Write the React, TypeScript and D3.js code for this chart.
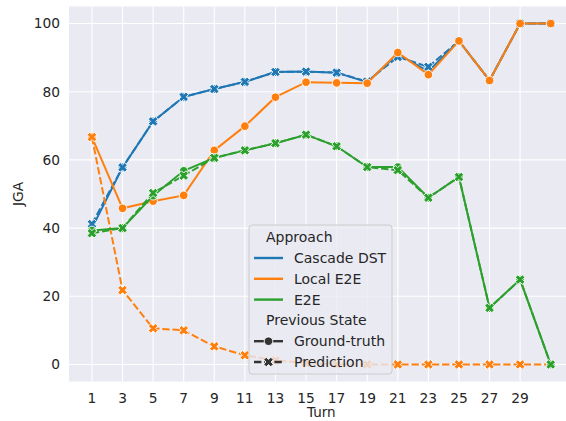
import React from 'react';
import * as d3 from 'd3';

// turns (x) and JGA values (y)
const turns = [1, 3, 5, 7, 9, 11, 13, 15, 17, 19, 21, 23, 25, 27, 29, 31];
const xTicks = [1, 3, 5, 7, 9, 11, 13, 15, 17, 19, 21, 23, 25, 27, 29];
const yTicks = [0, 20, 40, 60, 80, 100];

const cascadeGT = [40.0, 57.8, 71.3, 78.5, 80.8, 82.9, 85.8, 85.9, 85.6, 82.8, 91.0, 86.0, 94.9, 83.3, 100, 100];
const cascadePred = [41.2, 57.8, 71.3, 78.5, 80.8, 82.9, 85.8, 85.9, 85.6, 83.0, 90.2, 87.3, 94.9, 83.3, 100, 100];
const localGT = [66.7, 45.8, 47.9, 49.6, 62.8, 69.9, 78.4, 82.8, 82.6, 82.5, 91.5, 85.0, 94.9, 83.3, 100, 100];
const localPred = [66.7, 21.8, 10.6, 10.0, 5.3, 2.7, 1.2, 0.4, 0, 0, 0, 0, 0, 0, 0, 0];
const e2eGT = [39.3, 40.0, 49.5, 56.8, 60.6, 62.8, 64.9, 67.4, 64.0, 57.9, 57.9, 48.9, 55.0, 16.6, 24.9, 0];
const e2ePred = [38.5, 40.0, 50.3, 55.4, 60.6, 62.8, 64.9, 67.4, 64.0, 57.9, 57.0, 48.9, 55.0, 16.6, 24.9, 0];

const approaches = ['Cascade DST', 'Local E2E', 'E2E'];
const colors = ['#1f77b4', '#ff7f0e', '#2ca02c'];
const states = ['Ground-truth', 'Prediction'];

// draw order follows seaborn: hue x style
const series = [
  { values: cascadeGT, color: colors[0], style: 0 },
  { values: cascadePred, color: colors[0], style: 1 },
  { values: localGT, color: colors[1], style: 0 },
  { values: localPred, color: colors[1], style: 1 },
  { values: e2eGT, color: colors[2], style: 0 },
  { values: e2ePred, color: colors[2], style: 1 },
];

const W = 566, H = 421;
const left = 69, right = 566, top = 6.5, bottom = 381.5;
const font = 'DejaVu Sans, sans-serif';
const textColor = '#262626';

// filled "X" marker path
function xPath(s: number) {
  const w = 0.36;
  const pts = [[w, 1], [w, w], [1, w], [1, -w], [w, -w], [w, -1], [-w, -1], [-w, -w], [-1, -w], [-1, w], [-w, w], [-w, 1]];
  const c = Math.SQRT1_2;
  return 'M' + pts.map(([px, py]) => {
    const rx = (px * c - py * c) * s;
    const ry = (px * c + py * c) * s;
    return `${rx.toFixed(2)},${ry.toFixed(2)}`;
  }).join('L') + 'Z';
}

const Marker = ({ style, x, y, color }: { style: number; x: number; y: number; color: string }) =>
  style === 0
    ? <circle cx={x} cy={y} r={4.3} fill={color} stroke="#fff" strokeWidth={0.9} />
    : <path d={xPath(5)} transform={`translate(${x},${y})`} fill={color} stroke="#fff" strokeWidth={0.9} />;

export default function App() {
  const x = d3.scaleLinear().domain([-0.5, 32]).range([left, right]);
  const y = d3.scaleLinear().domain([-5, 105]).range([bottom, top]);
  const line = d3.line<number>().x((_, i) => x(turns[i])).y((d) => y(d));

  const lx = 249, ly = 225, lw = 143, lh = 149;
  const rowY = (i: number) => 237.2 + i * 20.8;

  return (
    <svg width={W} height={H} style={{ position: 'absolute', left: 0, top: 0, background: '#fff' }} fontFamily={font}>
      <rect x={left} y={top} width={right - left} height={bottom - top} fill="#EAEAF2" />
      {xTicks.map((t) => (
        <line key={'gx' + t} x1={x(t)} x2={x(t)} y1={top} y2={bottom} stroke="#fff" strokeWidth={1.1} />
      ))}
      {yTicks.map((t) => (
        <line key={'gy' + t} x1={left} x2={right} y1={y(t)} y2={y(t)} stroke="#fff" strokeWidth={1.1} />
      ))}

      {series.map((s, k) => (
        <g key={k}>
          <path d={line(s.values) || ''} fill="none" stroke={s.color} strokeWidth={2}
            strokeDasharray={s.style === 1 ? '7.4 2.8' : undefined} />
          {s.values.map((v, i) => (
            <Marker key={i} style={s.style} x={x(turns[i])} y={y(v)} color={s.color} />
          ))}
        </g>
      ))}

      {xTicks.map((t) => (
        <text key={'tx' + t} x={x(t)} y={403} textAnchor="middle" fontSize={13.8} fill={textColor}>{t}</text>
      ))}
      {yTicks.map((t) => (
        <text key={'ty' + t} x={60} y={y(t)} dy="0.35em" textAnchor="end" fontSize={13.8} fill={textColor}>{t}</text>
      ))}
      <text x={x(16)} y={417} textAnchor="middle" fontSize={13.5} fill={textColor}>Turn</text>
      <text transform={`translate(23,${(top + bottom) / 2}) rotate(-90)`} textAnchor="middle" fontSize={13.8} fill={textColor}>JGA</text>

      <g>
        <rect x={lx} y={ly} width={lw} height={lh} rx={3} fill="#EAEAF2" fillOpacity={0.8} stroke="#cccccc" strokeWidth={1} />
        <text x={266} y={rowY(0)} dy="0.35em" fontSize={14} fill={textColor}>Approach</text>
        {approaches.map((a, i) => (
          <g key={a}>
            <line x1={254} x2={283} y1={rowY(i + 1)} y2={rowY(i + 1)} stroke={colors[i]} strokeWidth={2.4} />
            <text x={294} y={rowY(i + 1)} dy="0.35em" fontSize={14} fill={textColor}>{a}</text>
          </g>
        ))}
        <text x={266} y={rowY(4)} dy="0.35em" fontSize={14} fill={textColor}>Previous State</text>
        {states.map((s, i) => (
          <g key={s}>
            <line x1={254} x2={283} y1={rowY(i + 5)} y2={rowY(i + 5)} stroke="#333333" strokeWidth={2.4}
              strokeDasharray={i === 1 ? '7.4 2.8' : undefined} />
            <Marker style={i} x={268.5} y={rowY(i + 5)} color="#333333" />
            <text x={294} y={rowY(i + 5)} dy="0.35em" fontSize={14} fill={textColor}>{s}</text>
          </g>
        ))}
      </g>
    </svg>
  );
}
